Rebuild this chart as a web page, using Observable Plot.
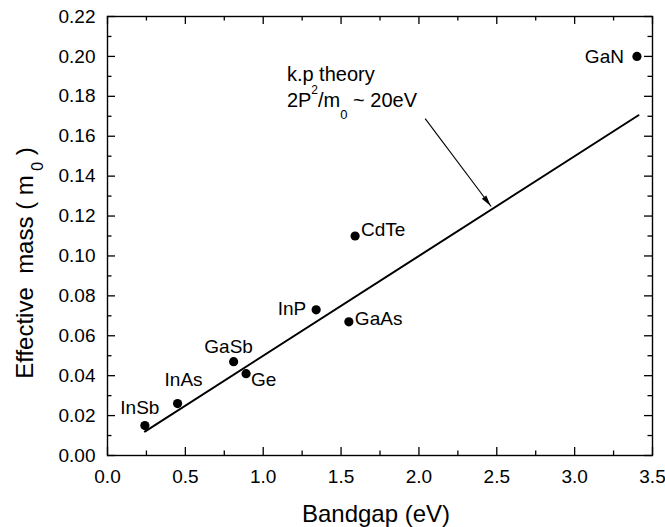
<!DOCTYPE html>
<html><head><meta charset="utf-8">
<script src="https://cdn.jsdelivr.net/npm/d3@7"></script>
<script src="https://cdn.jsdelivr.net/npm/@observablehq/plot@0.6"></script>
<style>
body{margin:0;background:#fff;}
#chart svg{display:block;font-family:"Liberation Sans",Arial,Helvetica,sans-serif;}
</style>
</head><body><div id="chart"></div>
<script>
// ---- data ----
const materials = ["InSb","InAs","GaSb","Ge","InP","GaAs","CdTe","GaN"];
const bandgap   = [0.24, 0.45, 0.81, 0.89, 1.34, 1.55, 1.59, 3.40];
const mass      = [0.015, 0.026, 0.047, 0.041, 0.073, 0.067, 0.110, 0.200];

const theoryBandgap = [0.24, 3.41];
const theoryMass    = [0.012, 0.1705];

const arrowStart = [2.04, 0.1688];
const arrowEnd   = [2.464, 0.1248];

const noteText = ["k.p theory", "2P2/m0 ~ 20eV"];
const noteX = [1.152, 1.152];
const noteY = [0.1875, 0.1744];

const xTicks = [0, 0.5, 1.0, 1.5, 2.0, 2.5, 3.0, 3.5];
const xMinor = [0.25, 0.75, 1.25, 1.75, 2.25, 2.75, 3.25];
const yTicks = [0, 0.02, 0.04, 0.06, 0.08, 0.10, 0.12, 0.14, 0.16, 0.18, 0.20, 0.22];
const yMinor = [0.01, 0.03, 0.05, 0.07, 0.09, 0.11, 0.13, 0.15, 0.17, 0.19, 0.21];

const xTitle = "Bandgap (eV)";
const yTitle = "Effective mass ( m0 )";

// ---- tables ----
const points = materials.map((m, i) => ({name: m, x: bandgap[i], y: mass[i]}));
const theory = theoryBandgap.map((x, i) => ({x, y: theoryMass[i]}));
const notes = noteText.map((t, i) => ({t, x: noteX[i], y: noteY[i]}));
const arrowData = [{x1: arrowStart[0], y1: arrowStart[1], x2: arrowEnd[0], y2: arrowEnd[1]}];

// label placement (styling)
const place = {
  GaN:  {textAnchor: "end",    dx: -13, dy: 7},
  CdTe: {textAnchor: "start",  dx: 6,   dy: 0},
  GaAs: {textAnchor: "start",  dx: 6,   dy: 3},
  Ge:   {textAnchor: "start",  dx: 5,   dy: 12},
  InP:  {textAnchor: "end",    dx: -10, dy: 5},
  GaSb: {textAnchor: "middle", dx: -5,  dy: -9},
  InAs: {textAnchor: "middle", dx: 6,   dy: -18},
  InSb: {textAnchor: "middle", dx: -5,  dy: -12}
};

const W = 665, H = 527, mL = 107, mR = 13, mT = 16, mB = 72;
const plotW = W - mL - mR, plotH = H - mT - mB;
const font = 19;

const labelMarks = points.map(p => Plot.text([p], {
  x: "x", y: "y", text: "name", lineAnchor: "bottom",
  fontSize: font, fill: "black", ...place[p.name]
}));

const chart = Plot.plot({
  width: W, height: H,
  marginLeft: mL, marginRight: mR, marginTop: mT, marginBottom: mB,
  x: {domain: [0, 3.5]},
  y: {domain: [0, 0.22]},
  style: {fontFamily: '"Liberation Sans", Arial, Helvetica, sans-serif', color: "black", background: "white"},
  marks: [
    Plot.axisX(xTicks, {tickSize: 0, tickPadding: 13.5, fontSize: font, tickFormat: d3.format(".1f"), label: null}),
    Plot.axisY(yTicks, {tickSize: 0, tickPadding: 12, fontSize: font, tickFormat: d3.format(".2f"), label: null}),
    // inward ticks, bottom & top
    Plot.tickX(xTicks, {x: d => d, insetTop: plotH - 8, stroke: "black", strokeWidth: 1.3}),
    Plot.tickX(xMinor, {x: d => d, insetTop: plotH - 4.5, stroke: "black", strokeWidth: 1.3}),
    Plot.tickX(xTicks, {x: d => d, insetBottom: plotH - 8, stroke: "black", strokeWidth: 1.3}),
    Plot.tickX(xMinor, {x: d => d, insetBottom: plotH - 4.5, stroke: "black", strokeWidth: 1.3}),
    // inward ticks, left & right
    Plot.tickY(yTicks, {y: d => d, insetRight: plotW - 8, stroke: "black", strokeWidth: 1.3}),
    Plot.tickY(yMinor, {y: d => d, insetRight: plotW - 4.5, stroke: "black", strokeWidth: 1.3}),
    Plot.tickY(yTicks, {y: d => d, insetLeft: plotW - 8, stroke: "black", strokeWidth: 1.3}),
    Plot.tickY(yMinor, {y: d => d, insetLeft: plotW - 4.5, stroke: "black", strokeWidth: 1.3}),
    Plot.frame({stroke: "black", strokeWidth: 1.4}),
    // theory line
    Plot.line(theory, {x: "x", y: "y", stroke: "black", strokeWidth: 2}),
    // data points
    Plot.dot(points, {x: "x", y: "y", r: 4.6, fill: "black", stroke: "none"}),
    ...labelMarks,
    // annotation
    Plot.text(notes, {x: "x", y: "y", text: "t", textAnchor: "start", lineAnchor: "bottom", fontSize: 20, fill: "black"}),
    Plot.link(arrowData, {x1: "x1", y1: "y1", x2: "x2", y2: "y2", stroke: "black", strokeWidth: 1.1}),
    // axis titles
    Plot.text([xTitle], {frameAnchor: "bottom", textAnchor: "middle", dy: 66, dx: -4, lineAnchor: "bottom", fontSize: 24, fill: "black"}),
    Plot.text([yTitle], {frameAnchor: "left", textAnchor: "middle", rotate: -90, dx: -75, dy: 27, lineAnchor: "bottom", fontSize: 24, fill: "black"})
  ]
});

// filled narrow arrowhead at the arrow's tip, placed through the chart's scales
{
  const sx = chart.scale("x"), sy = chart.scale("y");
  const a = arrowData[0];
  const x1 = sx.apply(a.x1), y1 = sy.apply(a.y1), x2 = sx.apply(a.x2), y2 = sy.apply(a.y2);
  const len = Math.hypot(x2 - x1, y2 - y1), ux = (x2 - x1) / len, uy = (y2 - y1) / len;
  const L = 11, hw = 2.8;
  const bx = x2 - ux * L, by = y2 - uy * L;
  const pts = [[x2, y2], [bx - uy * hw, by + ux * hw], [bx + uy * hw, by - ux * hw]];
  d3.select(chart).append("polygon").attr("points", pts.map(p => p.join(",")).join(" ")).attr("fill", "black");
}

// rich text: super/subscripts
function richify(svg, plain, parts) {
  d3.select(svg).selectAll("text").filter(function() { return this.textContent === plain; }).each(function() {
    const t = d3.select(this);
    t.text(null);
    for (const [s, size, dy] of parts) {
      const ts = t.append("tspan").text(s);
      if (size) ts.attr("font-size", size);
      if (dy) ts.attr("dy", dy);
    }
  });
}
richify(chart, "2P2/m0 ~ 20eV", [["2P"], ["2", 12, -13], ["/m", 20, 13], ["0", 13, 12], ["\u00A0~ 20eV", 20, -12]]);
richify(chart, yTitle, [["Effective\u00A0\u00A0mass (\u00A0m"], ["\u00A00", 16, 10], ["\u00A0)", 24, -10]]);

document.getElementById("chart").appendChild(chart);
</script>
</body></html>
